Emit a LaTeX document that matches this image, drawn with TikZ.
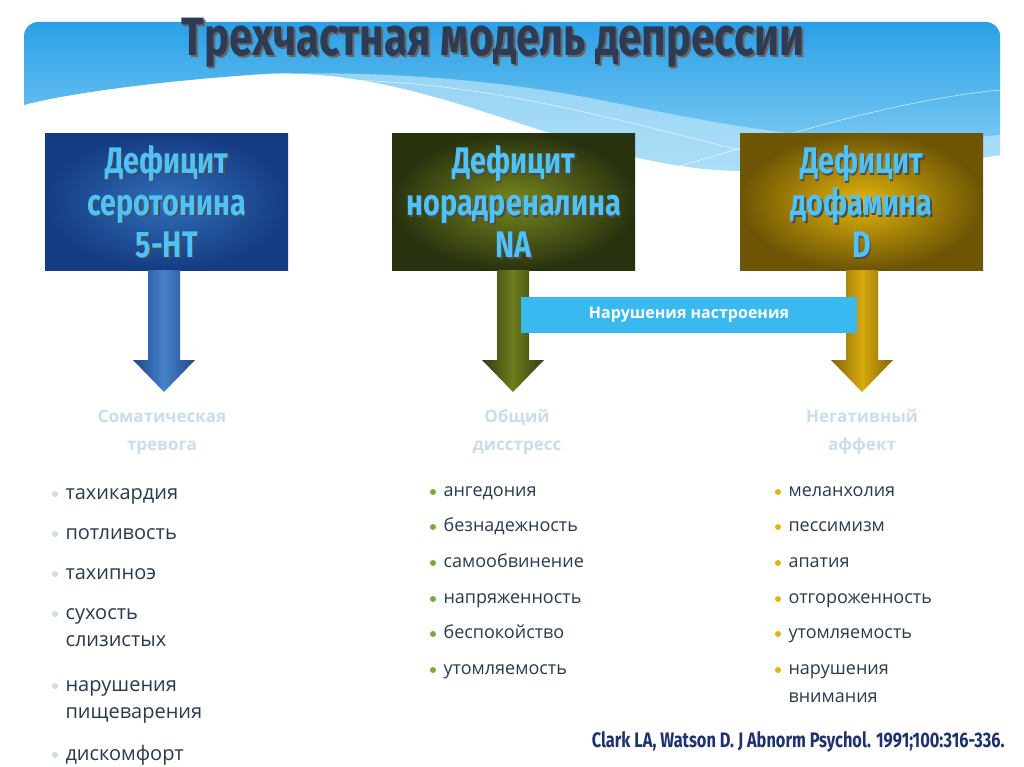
\documentclass[tikz,border=0pt]{standalone}
\usepackage{fontspec}
\setmainfont{Open Sans}
\newfontfamily\condfont[FakeStretch=0.78]{Fira Sans}
\usetikzlibrary{shadings}
\definecolor{sky}{HTML}{2AA0E6}
\definecolor{skyl}{HTML}{8CD3F5}
\definecolor{boxtxt}{HTML}{4FC3F7}
\definecolor{cat}{HTML}{C9DDEA}
\definecolor{ttl}{HTML}{2E3B55}
\definecolor{item}{HTML}{2B3A4A}
\definecolor{b1i}{RGB}{50,110,185}\definecolor{b1o}{RGB}{20,60,130}
\definecolor{b2i}{RGB}{120,135,30}\definecolor{b2o}{RGB}{40,50,15}
\definecolor{b3i}{RGB}{225,180,10}\definecolor{b3o}{RGB}{110,85,5}
\definecolor{a1o}{RGB}{30,70,140}\definecolor{a1i}{RGB}{70,130,200}
\definecolor{a2o}{RGB}{50,60,20}\definecolor{a2i}{RGB}{110,125,30}
\definecolor{a3o}{RGB}{130,100,5}\definecolor{a3i}{RGB}{215,170,15}
\definecolor{barc}{RGB}{58,184,240}
\definecolor{gdot}{RGB}{120,170,60}
\definecolor{ydot}{RGB}{225,180,20}
\definecolor{refc}{RGB}{30,50,110}
\tikzset{
 box/.style={draw=none,minimum width=243pt,minimum height=137pt,anchor=north west},
 btxt/.style={font=\condfont\bfseries\fontsize{37}{42}\selectfont,text=boxtxt,align=center},
 cattxt/.style={font=\bfseries\fontsize{17}{28}\selectfont,text=cat,align=center},
 li/.style={font=\fontsize{20}{27}\selectfont,text=item,anchor=west,align=left,text height=14pt,text depth=4pt},
 mi/.style={font=\fontsize{18}{27}\selectfont,text=item,anchor=west,align=left,text height=13pt,text depth=4pt},
}
\begin{document}
\begin{tikzpicture}[x=1pt,y=-1pt]
\useasboundingbox (0,0) rectangle (1024,767);
\fill[white] (0,0) rectangle (1024,767);
% header
\begin{scope}
\clip[rounded corners=14pt] (24,22) rectangle (1000,200);
\shade[top color=sky, bottom color=skyl] (24,22) -- (1000,22) -- (1000,155) .. controls (900,170) and (800,175) .. (720,170) .. controls (560,160) and (420,60) .. (250,75) .. controls (150,82) and (60,95) .. (24,105) -- cycle;
\fill[skyl!60,opacity=0.7] (250,75) .. controls (420,60) and (560,160) .. (720,170) .. controls (800,175) and (900,170) .. (1000,155) -- (1000,135) .. controls (850,150) and (750,130) .. (600,100) .. controls (480,76) and (350,70) .. (250,75) -- cycle;
\draw[white,opacity=0.7,line width=0.6pt] (330,80) .. controls (500,80) and (650,130) .. (820,170);
\draw[white,opacity=0.7,line width=0.6pt] (650,175) .. controls (800,130) and (900,100) .. (1000,90);
\end{scope}
\node[font=\condfont\bfseries\fontsize{54}{54}\selectfont,text=black!60,inner sep=0pt] at (495,45) {Трехчастная модель депрессии};
\node[font=\condfont\bfseries\fontsize{54}{54}\selectfont,text=ttl,inner sep=0pt] (title) at (493,43) {Трехчастная модель депрессии};
% boxes
\node[box,inner color=b1i,outer color=b1o] (b1) at (45,133) {};
\node[box,inner color=b2i,outer color=b2o] (b2) at (392,133) {};
\node[box,inner color=b3i,outer color=b3o] (b3) at (740,133) {};
\foreach \b/\t in {b1/{Дефицит\\серотонина\\5-HT},b2/{Дефицит\\норадреналина\\NA},b3/{Дефицит\\дофамина\\D}}{
 \node[btxt,text=black!70] at ([xshift=1.5pt,yshift=-1.5pt]\b.center) {\t};
 \node[btxt] at (\b.center) {\t};
}
% arrows
\foreach \c/\n in {164/a1,513/a2,862/a3}{
 \shade[left color=\n o,right color=\n o,middle color=\n i] (\c-16,270) -- (\c+16,270) -- (\c+16,360) -- (\c+31,360) -- (\c,392) -- (\c-31,360) -- (\c-16,360) -- cycle;
 \coordinate (\n) at (\c,392);
}
\node[fill=barc,minimum width=336pt,minimum height=36pt,text=white,font=\bfseries\fontsize{16}{16}\selectfont] (bar) at (689,315) {Нарушения настроения};
% categories
\node[cattxt] (c1) at (162,432) {Соматическая\\тревога};
\node[cattxt] (c2) at (517,432) {Общий\\дисстресс};
\node[cattxt] (c3) at (862,432) {Негативный\\аффект};
% left list
\foreach \y/\t in {494/тахикардия,534/потливость,574/тахипноэ,614/сухость,641/слизистых,686/нарушения,713/пищеварения,755/дискомфорт}{
 \node[li] at (62,\y) {\t};
}
\foreach \y in {494,534,574,614,686,755}{\fill[cat] (55,\y) circle (3pt);}
% middle list
\foreach \y/\t in {492/ангедония,527/безнадежность,563/самообвинение,599/напряженность,634/беспокойство,670/утомляемость}{
 \node[mi] at (440,\y) {\t};
 \fill[gdot] (433,\y) circle (3pt);
}
% right list
\foreach \y/\t in {492/меланхолия,527/пессимизм,563/апатия,599/отгороженность,634/утомляемость,670/нарушения,698/внимания}{
 \node[mi] at (785,\y) {\t};
}
\foreach \y in {492,527,563,599,634,670}{\fill[ydot] (778,\y) circle (3pt);}
\node[font=\condfont\bfseries\fontsize{21}{21}\selectfont,text=refc,anchor=east] (ref) at (1008,742) {Clark LA, Watson D. J Abnorm Psychol. 1991;100:316-336.};
\end{tikzpicture}
\end{document}
